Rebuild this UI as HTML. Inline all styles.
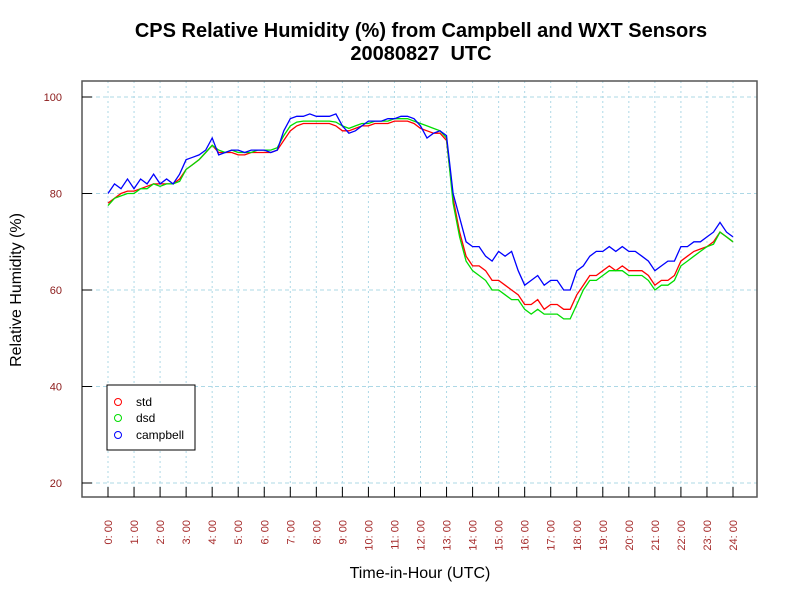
<!DOCTYPE html>
<html><head><meta charset="utf-8"><style>
body{margin:0;background:#fff;}
svg{display:block;font-family:"Liberation Sans",sans-serif;}
</style></head><body>
<svg id="chart" width="800" height="600">
<rect width="800" height="600" fill="#fff"/>
<text x="421" y="37" text-anchor="middle" font-size="20" font-weight="bold">CPS Relative Humidity (%) from Campbell and WXT Sensors</text>
<text x="421" y="60" text-anchor="middle" font-size="20" font-weight="bold" style="white-space:pre">20080827  UTC</text>
<g id="grid"></g>
<g id="series"></g>
<rect x="82" y="81" width="675" height="416" fill="none" stroke="#555" stroke-width="1.5"/>
<g id="axes"></g>
<text x="420" y="578" text-anchor="middle" font-size="16">Time-in-Hour (UTC)</text>
<text transform="translate(21,290) rotate(-90)" text-anchor="middle" font-size="16">Relative Humidity (%)</text>
<g>
<rect x="107" y="385" width="88" height="65" fill="#fff" stroke="#000"/>
<circle cx="118" cy="402" r="3.5" fill="none" stroke="#f00"/>
<text x="136" y="406" font-size="12">std</text>
<circle cx="118" cy="418" r="3.5" fill="none" stroke="#0d0"/>
<text x="136" y="422" font-size="12">dsd</text>
<circle cx="118" cy="435" r="3.5" fill="none" stroke="#00f"/>
<text x="136" y="439" font-size="12">campbell</text>
</g>
</svg>
<script>
const yTicks=[20,40,60,80,100];
const xTickLabels=["0: 00","1: 00","2: 00","3: 00","4: 00","5: 00","6: 00","7: 00","8: 00","9: 00","10: 00","11: 00","12: 00","13: 00","14: 00","15: 00","16: 00","17: 00","18: 00","19: 00","20: 00","21: 00","22: 00","23: 00","24: 00"];
const stepHours=0.25;
const campbell=[80,82,81,83,81,83,82,84,82,83,82,84,87,87.5,88,89,91.5,88,88.5,89,89,88.5,89,89,89,88.5,89,93,95.5,96,96,96.5,96,96,96,96.5,94,92.5,93,94,95,95,95,95.5,95.5,96,96,95.5,94,91.5,92.5,93,92,80,75,70,69,69,67,66,68,67,68,64,61,62,63,61,62,62,60,60,64,65,67,68,68,69,68,69,68,68,67,66,64,65,66,66,69,69,70,70,71,72,74,72,71];
const std=[78,79,80,80.5,80.5,81,81.5,82,82,82,82,83,85,86,87,88.5,90,88.5,88.5,88.5,88,88,88.5,88.5,88.5,88.5,89,91,93,94,94.5,94.5,94.5,94.5,94.5,94,93,93,93.5,94,94,94.5,94.5,94.5,95,95,95,94.5,93.5,93,92.5,92.5,91,79,72,67,65,65,64,62,62,61,60,59,57,57,58,56,57,57,56,56,59,61,63,63,64,65,64,65,64,64,64,63,61,62,62,63,66,67,68,68.5,69,70,72,71,70];
const dsd=[77.5,79,79.5,80,80,81,81,82,81.5,82,82,82.5,85,86,87,88.5,90,89,88.5,89,88.5,88.5,88.5,89,89,89,89.5,92,94,94.8,95,95,95,95,95,94.8,94,93.5,94,94.5,94.5,95,95,95,95.5,95.5,95.5,95,94.5,94,93.5,93,91.5,78,71,66,64,63,62,60,60,59,58,58,56,55,56,55,55,55,54,54,57,60,62,62,63,64,64,64,63,63,63,62,60,61,61,62,65,66,67,68,69,69.5,72,71,70];
const NS="http://www.w3.org/2000/svg";
const xs=h=>108+h*(733-108)/24;
const ys=v=>483-(v-20)*(483-97)/80;
const grid=document.getElementById('grid'),axes=document.getElementById('axes'),ser=document.getElementById('series');
function mk(tag,attrs,parent){const e=document.createElementNS(NS,tag);for(const k in attrs)e.setAttribute(k,attrs[k]);parent.appendChild(e);return e;}
yTicks.forEach(v=>{
 const g=mk('line',{x1:82,x2:757,y1:ys(v),y2:ys(v),stroke:'#add8e6','stroke-dasharray':'4,3'},grid);
 
 
 const t=mk('line',{x1:82,x2:92,y1:ys(v),y2:ys(v),stroke:'#000'},axes);
 
 
 const l=mk('text',{x:62,y:ys(v)+4,'text-anchor':'end','font-size':11,fill:'#8b1a1a'},axes);
 l.textContent=v;
 
 
});
xTickLabels.forEach((s,i)=>{
 const x=xs(i);
 const g=mk('line',{x1:x,x2:x,y1:81,y2:497,stroke:'#add8e6','stroke-dasharray':'2,3'},grid);
 
 
 const t=mk('line',{x1:x,x2:x,y1:487,y2:497,stroke:'#000'},axes);
 
 
 const l=mk('text',{transform:`translate(${x+4},520) rotate(-90)`,'text-anchor':'end','font-size':11,fill:'#a52a2a',style:'white-space:pre'},axes);
 l.textContent=s;
 
 
});
function line(arr,col,name){
 const p=mk('polyline',{points:arr.map((v,i)=>xs(i*stepHours).toFixed(1)+','+ys(v).toFixed(1)).join(' '),fill:'none',stroke:col,'stroke-width':1.3},ser);
 
 
}
line(std,'#f00','std-line');
line(dsd,'#0d0','dsd-line');
line(campbell,'#00f','campbell-line');
</script>
</body></html>
